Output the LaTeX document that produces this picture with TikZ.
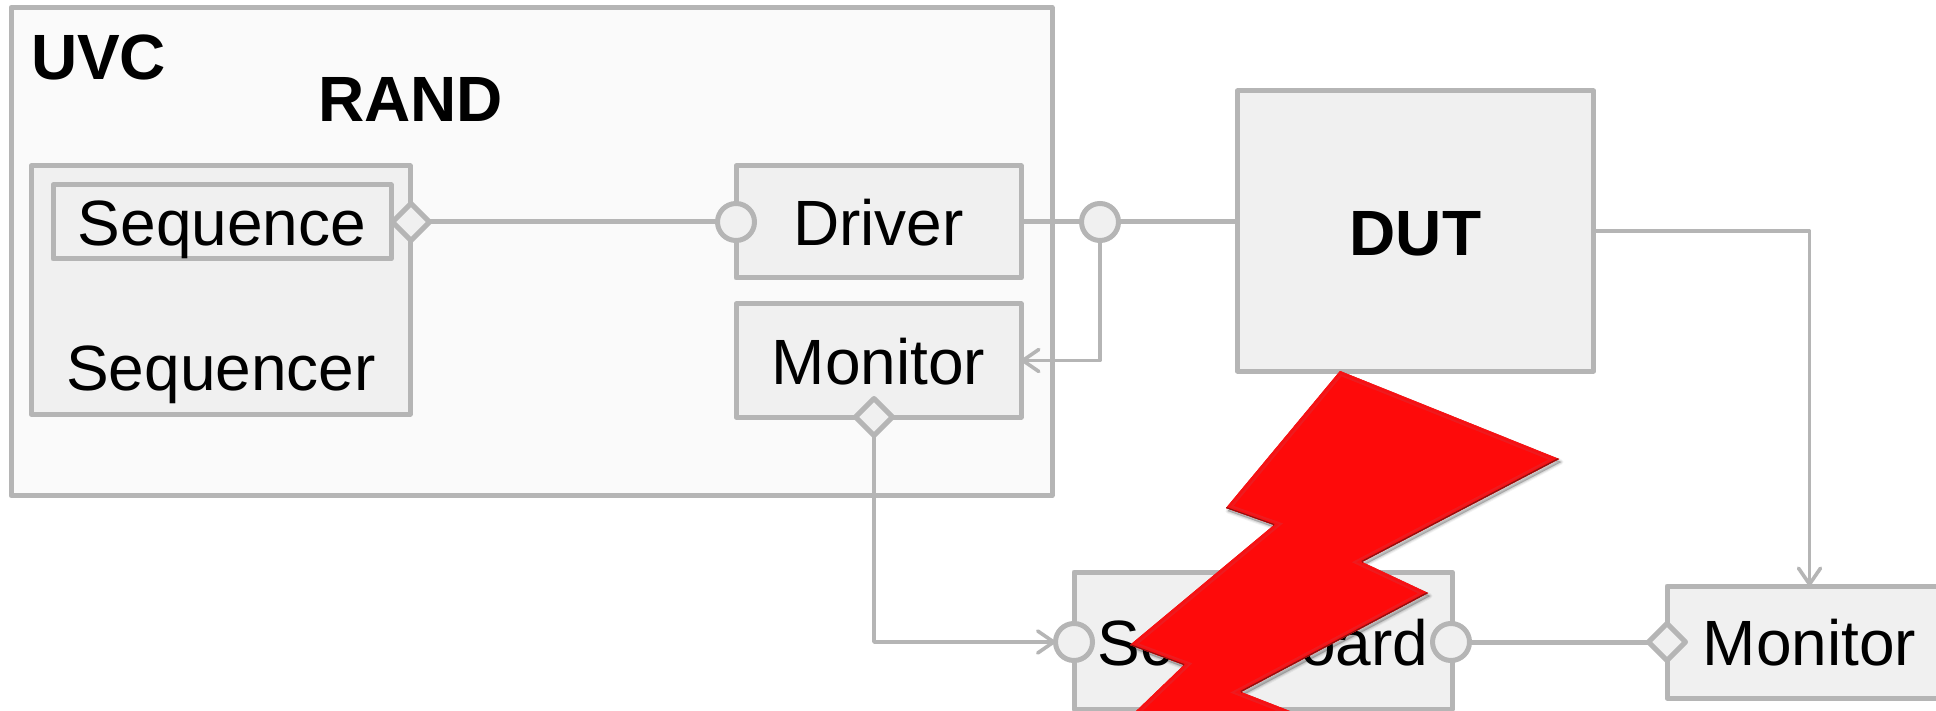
\documentclass[tikz,border=0pt]{standalone}
\usepackage{fontspec}
\setmainfont{Liberation Sans}
\usetikzlibrary{shapes.geometric,arrows.meta,calc}
\definecolor{edgegray}{HTML}{B5B5B5}
\definecolor{boxfill}{HTML}{F0F0F0}
\definecolor{uvcfill}{HTML}{FAFAFA}
\definecolor{boltred}{HTML}{FE0A0A}
\definecolor{boltlite}{HTML}{EE1A1E}
\definecolor{boltdark}{HTML}{8E1010}
\newcommand{\boltshape}{(1340,371) -- (1559,459) -- (1362,562) -- (1428,593) -- (1241,692) -- (1300,715) -- (1132,715) -- (1184,665) -- (1130,645) -- (1274,525) -- (1226,508) -- cycle}
\tikzset{
  x=1pt,y=-1pt,
  txt/.style={font=\fontsize{64}{70}\selectfont,text=black,inner sep=0pt,outer sep=0pt},
  boldtxt/.style={txt,font=\fontsize{64}{70}\bfseries\selectfont},
  boxnode/.style={rectangle,draw=edgegray,fill=boxfill,line width=5pt,line join=round,
    inner sep=0pt,outer sep=0pt,font=\fontsize{64}{70}\selectfont,text depth=0pt},
  portc/.style={circle,draw=edgegray,fill=boxfill,line width=5pt,inner sep=0pt,outer sep=0pt,minimum size=37pt},
  portd/.style={diamond,aspect=1,draw=edgegray,fill=boxfill,line width=5pt,line join=round,inner sep=0pt,outer sep=0pt,minimum width=37pt,minimum height=37pt},
  link/.style={draw=edgegray,line width=5pt},
  flow/.style={draw=edgegray,line width=3.6pt,line join=round,
    -{Straight Barb[length=16pt,width=22pt,line width=3.6pt,round]}},
}
\begin{document}
\begin{tikzpicture}
\useasboundingbox (0,0) rectangle (1936,711);
\clip (0,0) rectangle (1936,711);
\fill[white] (0,0) rectangle (1936,711);
% containers and boxes
\node[boxnode,fill=uvcfill,minimum width=1041pt,minimum height=488pt] (uvc) at (531.5,251.5) {};
\node[boldtxt,anchor=base west] (uvclabel) at (31,80) {UVC};
\node[boldtxt,anchor=base west] (randlabel) at (318,122) {RAND};
\node[boxnode,minimum width=379pt,minimum height=248pt] (sequencer) at (220.5,290) {};
\node[txt,anchor=base] (sequencerlabel) at (221,390) {Sequencer};
\node[boxnode,minimum width=338pt,minimum height=74pt,text height=48pt] (sequence) at (222,222) {Sequence};
\node[boxnode,minimum width=285pt,minimum height=112pt,text height=48pt] (driver) at (878.5,222) {Driver};
\node[boxnode,minimum width=285pt,minimum height=113pt,text height=47pt] (monitora) at (878.5,360.5) {Monitor};
\node[boxnode,minimum width=356pt,minimum height=280pt,text height=50pt] (dut) at (1415.5,231) {\bfseries DUT};
\node[boxnode,minimum width=378pt,minimum height=137pt,text height=49pt] (scoreboard) at (1263,640.5) {Scoreboard};
\node[boxnode,minimum width=285pt,minimum height=112pt,text height=46pt] (monitorb) at (1809.5,642) {Monitor};
% ports
\node[portd] (seqport) at (411,222) {};
\node[portc] (drvport) at (736,222) {};
\node[portc] (junction) at (1100,222) {};
\node[portd] (monport) at (874,417) {};
\node[portc] (sbin) at (1074,642) {};
\node[portc] (sbout) at (1451,642) {};
\node[portd] (mbport) at (1667,642) {};
% connectors
\draw[link] (seqport.east) -- (drvport.west);
\draw[link] (driver.east) -- (junction.west);
\draw[link] (junction.east) -- (junction.east -| dut.west);
\draw[link] (sbout.east) -- (mbport.west);
\draw[flow] (junction.south) |- (monitora.east);
\draw[flow] (monport.south) |- (sbin.west);
\draw[flow] (dut.east) -| (monitorb.north);
% lightning bolt
\foreach \w/\o in {5/.05,3/.07,1/.09}{
  \draw[black,opacity=\o,line width=\w pt,line join=round,fill=black] [shift={(2,3)}] \boltshape;
}
\fill[boltred] \boltshape;
\begin{scope}
  \clip \boltshape;
  \draw[boltlite,line width=9pt,line join=miter] \boltshape;
  \draw[boltred,opacity=.5,line width=5pt,line join=miter] \boltshape;
  \draw[boltdark,line width=2.4pt] (1559,459) -- (1362,562);
  \draw[boltdark,line width=2.4pt] (1428,593) -- (1241,692);
  \draw[boltdark,line width=2pt] (1226,508) -- (1274,525);
  \draw[boltdark,line width=2pt] (1130,645) -- (1184,665);
\end{scope}
\end{tikzpicture}
\end{document}
